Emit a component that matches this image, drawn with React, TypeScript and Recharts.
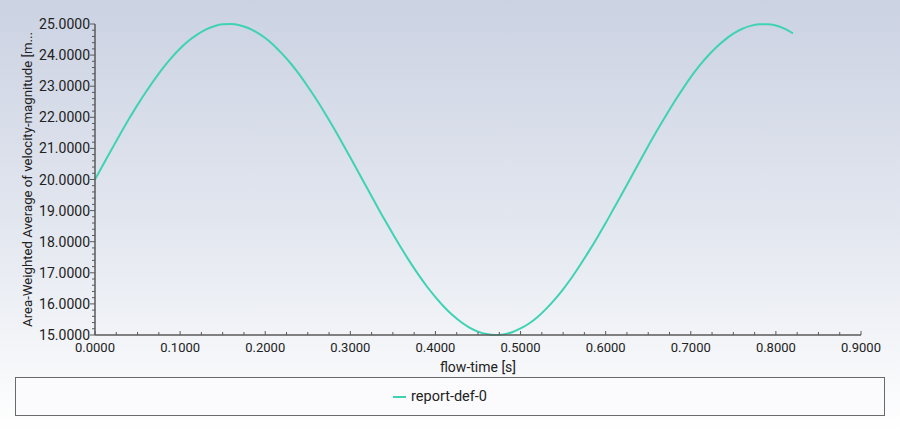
import { LineChart, Line, XAxis, YAxis, Legend } from 'recharts';

// flow-time [s] samples and the report value
const flowTime = [
  0.0, 0.01, 0.02, 0.03, 0.04, 0.05, 0.06, 0.07, 0.08, 0.09,
  0.1, 0.11, 0.12, 0.13, 0.14, 0.15, 0.16, 0.17, 0.18, 0.19,
  0.2, 0.21, 0.22, 0.23, 0.24, 0.25, 0.26, 0.27, 0.28, 0.29,
  0.3, 0.31, 0.32, 0.33, 0.34, 0.35, 0.36, 0.37, 0.38, 0.39,
  0.4, 0.41, 0.42, 0.43, 0.44, 0.45, 0.46, 0.47, 0.48, 0.49,
  0.5, 0.51, 0.52, 0.53, 0.54, 0.55, 0.56, 0.57, 0.58, 0.59,
  0.6, 0.61, 0.62, 0.63, 0.64, 0.65, 0.66, 0.67, 0.68, 0.69,
  0.7, 0.71, 0.72, 0.73, 0.74, 0.75, 0.76, 0.77, 0.78, 0.79,
  0.8, 0.81, 0.82,
];

const reportDef0 = [
  20.0, 20.5, 20.99, 21.48, 21.95, 22.4, 22.82, 23.22, 23.59, 23.92,
  24.21, 24.46, 24.66, 24.82, 24.93, 24.99, 25.0, 24.96, 24.87, 24.73,
  24.55, 24.32, 24.04, 23.73, 23.38, 22.99, 22.58, 22.14, 21.68, 21.2,
  20.71, 20.21, 19.71, 19.21, 18.72, 18.25, 17.79, 17.35, 16.94, 16.56,
  16.22, 15.91, 15.64, 15.42, 15.24, 15.11, 15.03, 15.0, 15.02, 15.09,
  15.21, 15.37, 15.58, 15.84, 16.14, 16.47, 16.84, 17.25, 17.68, 18.13,
  18.6, 19.09, 19.58, 20.08, 20.58, 21.08, 21.56, 22.02, 22.47, 22.89,
  23.29, 23.65, 23.97, 24.25, 24.49, 24.69, 24.84, 24.94, 24.99, 24.99,
  24.95, 24.85, 24.7,
];

// tick positions (major ones get labels, the rest are minor marks)
const xTicks = [
  0, 0.025, 0.05, 0.075, 0.1, 0.125, 0.15, 0.175, 0.2, 0.225, 0.25, 0.275,
  0.3, 0.325, 0.35, 0.375, 0.4, 0.425, 0.45, 0.475, 0.5, 0.525, 0.55, 0.575,
  0.6, 0.625, 0.65, 0.675, 0.7, 0.725, 0.75, 0.775, 0.8, 0.825, 0.85, 0.875, 0.9,
];
const xMajor = [0, 0.1, 0.2, 0.3, 0.4, 0.5, 0.6, 0.7, 0.8, 0.9];

const yTicks = [
  15, 15.2, 15.4, 15.6, 15.8, 16, 16.2, 16.4, 16.6, 16.8, 17, 17.2, 17.4, 17.6,
  17.8, 18, 18.2, 18.4, 18.6, 18.8, 19, 19.2, 19.4, 19.6, 19.8, 20, 20.2, 20.4,
  20.6, 20.8, 21, 21.2, 21.4, 21.6, 21.8, 22, 22.2, 22.4, 22.6, 22.8, 23, 23.2,
  23.4, 23.6, 23.8, 24, 24.2, 24.4, 24.6, 24.8, 25,
];
const yMajor = [15, 16, 17, 18, 19, 20, 21, 22, 23, 24, 25];

const data = flowTime.map((t, i) => ({ t, v: reportDef0[i] }));

const FONT = 'Roboto, "Noto Sans", sans-serif';
const AXIS = '#5a5a5a';
const LINE = '#3fd2b3';

const isMajor = (list: number[], v: number) => list.some((m) => Math.abs(m - v) < 1e-6);

function XTick(props: any) {
  const { x, y, payload } = props;
  const major = isMajor(xMajor, payload.value);
  return (
    <g>
      <line x1={x} x2={x} y1={y} y2={y - (major ? 4 : 3)} stroke={AXIS} strokeWidth={1} />
      {major && (
        <text x={x} y={y + 17} textAnchor="middle" fontSize={13} fontFamily={FONT} fill="#222">
          {payload.value.toFixed(4)}
        </text>
      )}
    </g>
  );
}

function YTick(props: any) {
  const { x, y, payload } = props;
  const major = isMajor(yMajor, payload.value);
  return (
    <g>
      <line x1={x} x2={x - (major ? 5 : 3)} y1={y} y2={y} stroke={AXIS} strokeWidth={1} />
      {major && (
        <text x={x - 5} y={y + 5} textAnchor="end" fontSize={14} fontFamily={FONT} fill="#222">
          {payload.value.toFixed(4)}
        </text>
      )}
    </g>
  );
}

function LegendBox() {
  return (
    <div
      style={{
        boxSizing: 'border-box',
        width: 870,
        height: 39,
        border: '1px solid #6a6a6a',
        background: '#fbfbfd',
        display: 'flex',
        alignItems: 'center',
        justifyContent: 'center',
        paddingRight: 20,
        fontFamily: FONT,
        fontSize: 14.5,
        color: '#222',
      }}
    >
      <svg width={13} height={4} style={{ marginRight: 5 }}>
        <line x1={0} x2={13} y1={2} y2={2} stroke={LINE} strokeWidth={2} />
      </svg>
      report-def-0
    </div>
  );
}

export default function App() {
  return (
    <div
      style={{
        position: 'fixed',
        left: 0,
        top: 0,
        width: 900,
        height: 432,
        background: 'linear-gradient(to bottom, #cbd2e2 0%, #e4e8f0 55%, #ffffff 100%)',
      }}
    >
      <LineChart
        width={900}
        height={432}
        data={data}
        margin={{ top: 24, right: 39, bottom: 18, left: 0 }}
      >
        <XAxis
          dataKey="t"
          type="number"
          domain={[0, 0.9]}
          ticks={xTicks}
          interval={0}
          tick={XTick}
          tickSize={0}
          tickMargin={0}
          tickLine={false}
          height={40}
          stroke={AXIS}
          strokeWidth={1.5}
          label={{
            content: (p: any) => (
              <text
                x={p.viewBox.x + p.viewBox.width / 2}
                y={372}
                textAnchor="middle"
                fontSize={14}
                fontFamily={FONT}
                fill="#222"
              >
                flow-time [s]
              </text>
            ),
          }}
        />
        <YAxis
          type="number"
          domain={[15, 25]}
          ticks={yTicks}
          interval={0}
          tick={YTick}
          tickSize={0}
          tickMargin={0}
          tickLine={false}
          width={95}
          stroke={AXIS}
          strokeWidth={1.5}
          label={{
            content: (p: any) => {
              const cy = p.viewBox.y + p.viewBox.height / 2;
              return (
                <text
                  x={27}
                  y={cy}
                  transform={`rotate(-90 27 ${cy})`}
                  textAnchor="middle"
                  dominantBaseline="central"
                  fontSize={13.2}
                  fontFamily={FONT}
                  fill="#222"
                >
                  Area-Weighted Average of velocity-magnitude [m...
                </text>
              );
            },
          }}
        />
        <Legend
          verticalAlign="bottom"
          content={() => <LegendBox />}
          wrapperStyle={{ left: 15, top: 377, width: 870, height: 39 }}
        />
        <Line
          type="monotone"
          dataKey="v"
          stroke={LINE}
          strokeWidth={2}
          dot={false}
          isAnimationActive={false}
        />
      </LineChart>
    </div>
  );
}
